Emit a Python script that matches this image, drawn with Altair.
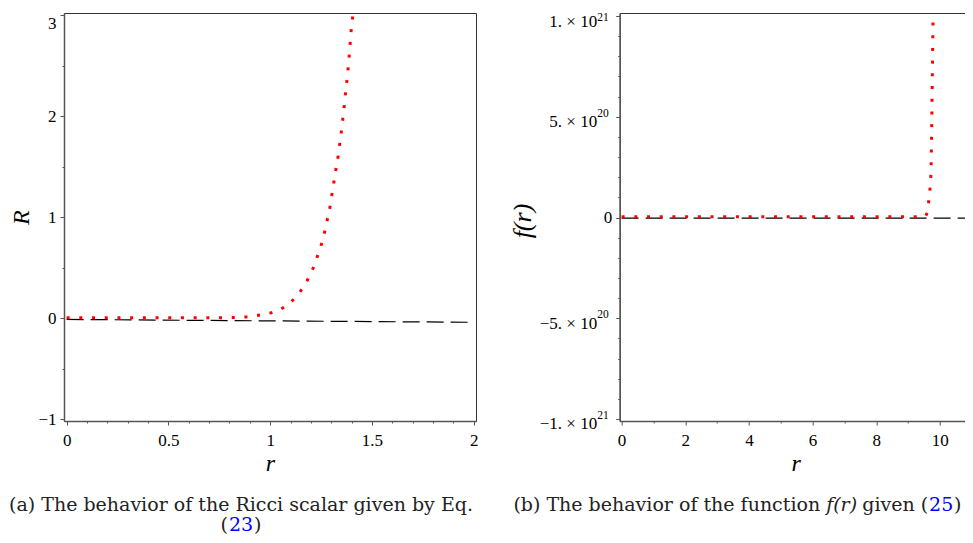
import altair as alt
import pandas as pd

# ---------------- data ----------------
# (a) Ricci scalar R(r)  -- red dotted curve
ricci_r = [0.0, 0.2, 0.4, 0.6, 0.77, 0.83, 0.89, 0.95, 1.015, 1.07, 1.12, 1.158,
           1.19, 1.215, 1.236, 1.255, 1.27, 1.283, 1.296, 1.305, 1.315, 1.325,
           1.335, 1.343, 1.351, 1.358, 1.365, 1.371, 1.378, 1.384, 1.389, 1.394,
           1.399, 1.407]
ricci_R = [0.005, 0.005, 0.005, 0.005, 0.005, 0.007, 0.014, 0.031, 0.061, 0.112,
           0.197, 0.296, 0.405, 0.517, 0.639, 0.755, 0.877, 1.0, 1.126, 1.25,
           1.374, 1.5, 1.62, 1.75, 1.87, 1.996, 2.12, 2.25, 2.37, 2.5, 2.62,
           2.75, 2.88, 3.0]
# (a) black dashed reference line
dash_a_r = [0.0, 1.97]
dash_a_R = [-0.012, -0.04]

# (b) f(r) -- red dotted curve
f_r = [0.0, 9.3, 9.55, 9.61, 9.66, 9.70, 9.72, 9.735, 9.745, 9.755, 9.765,
       9.775, 9.785]
f_val = [0.004e21, 0.004e21, 0.006e21, 0.027e21, 0.094e21, 0.157e21, 0.22e21,
         0.35e21, 0.47e21, 0.6e21, 0.72e21, 0.85e21, 0.98e21]
# (b) black dashed line
dash_b_r = [0.0, 11.0]
dash_b_val = [-0.003e21, -0.003e21]

# tick positions
a_x_ticks = [round(0.1 * i, 1) for i in range(21)]
a_y_ticks = [-1, -0.5, 0, 0.5, 1, 1.5, 2, 2.5, 3]
b_x_ticks = list(range(0, 12))
b_y_ticks = [i * 1e20 for i in range(-10, 11)]
# exponents of the (b) y tick labels  ("1. x 10^21" ...)
b_exp_top_val = [1e21]
b_exp_top_txt = ["21"]
b_exp_val = [5e20, -5e20, -1e21]
b_exp_txt = ["20", "20", "21"]

# captions
cap_a1 = "(a) The behavior of the Ricci scalar given by Eq."
cap_a_ref = "23"
cap_b1 = "(b) The behavior of the function"
cap_b_f = "f(r)"
cap_b2 = "given ("
cap_b_ref = "25"

# ---------------- layout constants ----------------
SERIF = "Liberation Serif"
CAPF = "DejaVu Serif"
CAPS = 19
W_A, H = 412, 408
W_B = 352
GAP = 143.7
CAP1 = 498
CAP2 = 518

def txt(s, x, y, align="center", color="#222", style="normal"):
    return alt.Chart(pd.DataFrame({"t": [s]})).mark_text(
        font=CAPF, fontSize=CAPS, align=align, baseline="alphabetic",
        color=color, fontStyle=style
    ).encode(x=alt.value(x), y=alt.value(y), text="t:N")

def tick_size(test):
    return {"condition": {"test": test, "value": 4}, "value": 2}

# ---------------- panel (a) ----------------
da = pd.DataFrame({"r": ricci_r, "R": ricci_R})
dda = pd.DataFrame({"r": dash_a_r, "R": dash_a_R})

xa = alt.X("r:Q", scale=alt.Scale(domain=[-0.013, 2.011], nice=False, zero=False),
           axis=alt.Axis(values=a_x_ticks, title="r", titleFontSize=24, titleY=49,
                         titleBaseline="alphabetic", labelFlush=False,
                         labelExpr="abs(datum.value*2 - round(datum.value*2)) < 1e-6 ? '' + datum.value : ''",
                         tickSize=tick_size("abs(datum.value*2 - round(datum.value*2)) < 1e-6"),
                         labelFont=SERIF, labelFontSize=17, labelPadding=7))
ya = alt.Y("R:Q", scale=alt.Scale(domain=[-1.017, 3.02], nice=False, zero=False),
           axis=alt.Axis(values=a_y_ticks, title="R", titleFontSize=24,
                         titleX=-43, titleY=H * 2.02 / 4.037, titleAngle=270,
                         titleBaseline="middle", titleAlign="center",
                         labelExpr="datum.value % 1 == 0 ? (datum.value < 0 ? '\u2212' + abs(datum.value) : '' + datum.value) : ''",
                         labelBaseline={"condition": {"test": "datum.value == 3", "value": "top"}, "value": "middle"},
                         tickSize=tick_size("datum.value % 1 == 0"),
                         labelFont=SERIF, labelFontSize=17, labelPadding=4))

dash_a = alt.Chart(dda).mark_line(color="black", strokeWidth=1.2, strokeDash=[17, 7]).encode(x=xa, y=ya)
red_a = alt.Chart(da).mark_line(color="#ff0000", strokeWidth=3, strokeDash=[3, 9.7],
                                strokeCap="butt", interpolate="monotone").encode(x=xa, y=ya)

ca = 240 - 63
dig = 0.636 * CAPS
panel_a = alt.layer(
    dash_a, red_a,
    txt(cap_a1, ca, CAP1),
    txt("(", ca - dig - 1, CAP2, align="right"),
    txt(cap_a_ref, ca, CAP2, color="#0000ff"),
    txt(")", ca + dig + 1, CAP2, align="left"),
).properties(width=W_A, height=H)

# ---------------- panel (b) ----------------
db = pd.DataFrame({"r": f_r, "f": f_val})
ddb = pd.DataFrame({"r": dash_b_r, "f": dash_b_val})

xb = alt.X("r:Q", scale=alt.Scale(domain=[-0.06, 11.0], nice=False, zero=False),
           axis=alt.Axis(values=b_x_ticks, title="r", titleFontSize=24, titleY=49,
                         titleBaseline="alphabetic", labelFlush=False,
                         labelExpr="datum.value % 2 == 0 ? '' + datum.value : ''",
                         tickSize=tick_size("datum.value % 2 == 0"),
                         labelFont=SERIF, labelFontSize=17, labelPadding=7))
major_b = "abs(datum.value) == 1e21 || abs(datum.value) == 5e20"
yb = alt.Y("f:Q", scale=alt.Scale(domain=[-1.01e21, 1.015e21], nice=False, zero=False),
           axis=alt.Axis(values=b_y_ticks, title="f(r)", titleFontSize=26,
                         titleX=-97.7, titleY=H * 1.03 / 2.025, titleAngle=270,
                         titleBaseline="middle", titleAlign="center",
                         labelExpr=("datum.value == 1e21 ? '1. \u00d7 10' : "
                                    "datum.value == 5e20 ? '5. \u00d7 10' : "
                                    "datum.value == 0 ? '0' : "
                                    "datum.value == -5e20 ? '\u22125. \u00d7 10' : "
                                    "datum.value == -1e21 ? '\u22121. \u00d7 10' : ''"),
                         labelOffset={"condition": {"test": major_b, "value": 5}, "value": 0},
                         labelPadding={"condition": {"test": major_b, "value": 19}, "value": 4},
                         tickSize=tick_size(major_b + " || datum.value == 0"),
                         labelFont=SERIF, labelFontSize=17))

dash_b = alt.Chart(ddb).mark_line(color="black", strokeWidth=1.2, strokeDash=[17, 7]).encode(x=xb, y=yb)
red_b = alt.Chart(db).mark_line(color="#ff0000", strokeWidth=3, strokeDash=[3, 9.7],
                                strokeCap="butt").encode(x=xb, y=yb)
exp_top = alt.Chart(pd.DataFrame({"f": b_exp_top_val, "e": b_exp_top_txt})).mark_text(
    font=SERIF, fontSize=11.5, align="left", baseline="middle", color="black", dy=2
).encode(x=alt.value(-22.5), y=yb, text="e:N")
exp_rest = alt.Chart(pd.DataFrame({"f": b_exp_val, "e": b_exp_txt})).mark_text(
    font=SERIF, fontSize=11.5, align="left", baseline="middle", color="black", dy=-2.8
).encode(x=alt.value(-22.5), y=yb, text="e:N")

# caption (b), chained from its right end
wR = 0.39 * CAPS
w25 = 2 * dig
wgiven = (2.761 + 0.318 + 0.39) * CAPS
wsp = 0.318 * CAPS
wf = 1.628 * CAPS
total = (16.147 + 0.318 + 1.628 + 0.318 + 3.469 + 1.272 + 0.39) * CAPS
end_b = 736 - 618.7 + total / 2
x5 = end_b - wR
panel_b = alt.layer(
    dash_b, red_b, exp_top, exp_rest,
    txt(")", x5 + 0.8, CAP1, align="left"),
    txt(cap_b_ref, x5, CAP1, align="right", color="#0000ff"),
    txt(cap_b2, x5 - w25 - 0.8, CAP1, align="right"),
    txt(cap_b_f, x5 - w25 - wgiven - wsp, CAP1, align="right", style="italic"),
    txt(cap_b1, x5 - w25 - wgiven - wsp - wf - wsp, CAP1, align="right"),
).properties(width=W_B, height=H)

chart = alt.hconcat(panel_a, panel_b, spacing=GAP, bounds="flush").properties(
    padding={"left": 0, "top": 0, "right": -10, "bottom": 0}
).configure_axis(
    labelFont=SERIF, labelFontSize=17, labelColor="black",
    titleFont=SERIF, titleFontStyle="italic", titleFontWeight="normal", titleColor="black",
    domainColor="#555", domainWidth=1.5, tickColor="#555", tickWidth=1, grid=False
).configure_view(stroke="#333", strokeWidth=1)

chart.save("out.html", embed_options={"renderer": "svg", "actions": False})
